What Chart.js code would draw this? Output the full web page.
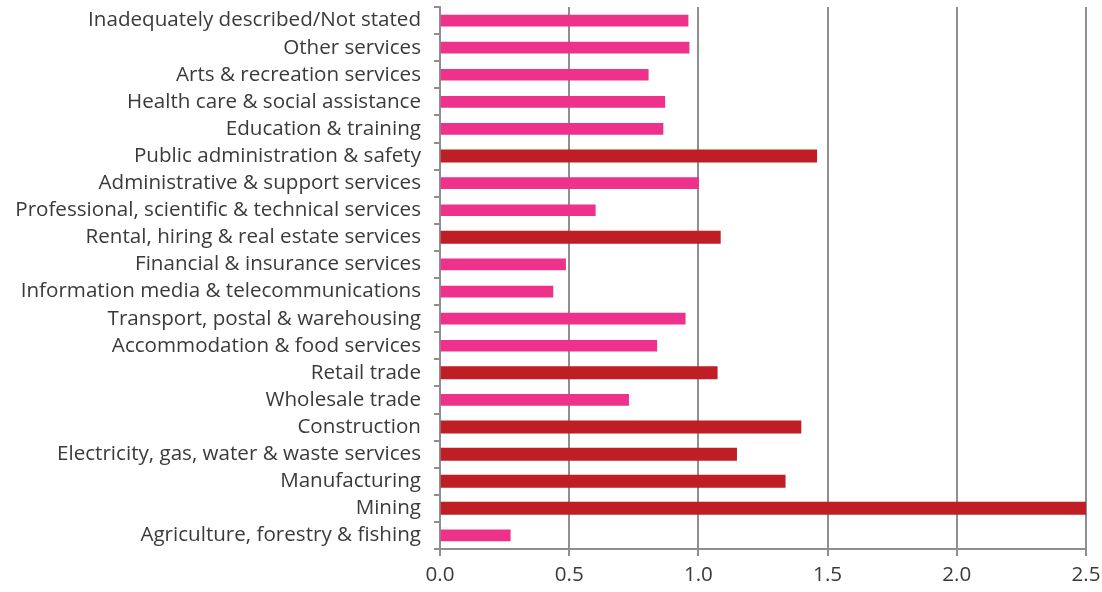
<!DOCTYPE html>
<html><head><meta charset="utf-8">
<script src="https://cdn.jsdelivr.net/npm/chart.js@4/dist/chart.umd.min.js"></script>
<style>html,body{margin:0;padding:0;background:#fff}#wrap{width:1102px;height:592px}</style>
</head><body><div id="wrap"><canvas id="c" width="1102" height="592"></canvas></div>
<script>
const categories = [
  'Inadequately described/Not stated',
  'Other services',
  'Arts & recreation services',
  'Health care & social assistance',
  'Education & training',
  'Public administration & safety',
  'Administrative & support services',
  'Professional, scientific & technical services',
  'Rental, hiring & real estate services',
  'Financial & insurance services',
  'Information media & telecommunications',
  'Transport, postal & warehousing',
  'Accommodation & food services',
  'Retail trade',
  'Wholesale trade',
  'Construction',
  'Electricity, gas, water & waste services',
  'Manufacturing',
  'Mining',
  'Agriculture, forestry & fishing'
];
const values = [0.96, 0.964, 0.806, 0.87, 0.863, 1.458, 1.001, 0.601, 1.085, 0.486, 0.437, 0.949, 0.839, 1.073, 0.73, 1.397, 1.148, 1.336, 2.51, 0.272];
const highlighted = ['Public administration & safety','Rental, hiring & real estate services','Retail trade','Construction','Electricity, gas, water & waste services','Manufacturing','Mining'];
const xTickLabels = ['0.0','0.5','1.0','1.5','2.0','2.5'];

const FONT = '"Open Sans"';
const mctx = document.createElement('canvas').getContext('2d');
mctx.font = '100px ' + FONT;
const longest = categories.reduce((a,b)=> (mctx.measureText(b).width > mctx.measureText(a).width ? b : a));
const fontSize = 100 * 406 / mctx.measureText(longest).width;

const pinkData = values.map((v,i)=> highlighted.includes(categories[i]) ? null : v);
const redData = values.map((v,i)=> highlighted.includes(categories[i]) ? v : null);
const GRID = '#8f8f8f';
const TEXT = '#3a3a3a';

new Chart(document.getElementById('c'), {
  type: 'bar',
  data: {
    labels: categories,
    datasets: [
      { data: pinkData, backgroundColor: '#ee318a', barThickness: 11, skipNull: true },
      { data: redData, backgroundColor: '#be1e24', barThickness: 12.3, skipNull: true }
    ]
  },
  options: {
    indexAxis: 'y',
    responsive: false,
    devicePixelRatio: 1,
    animation: false,
    layout: { padding: { top: 7, right: 16, left: 0, bottom: 0 } },
    plugins: { legend: { display: false }, tooltip: { enabled: false } },
    scales: {
      x: {
        stacked: true,
        min: 0, max: 2.5,
        afterFit: s => { s.height = 43; s.paddingLeft = 0; s.paddingRight = 0; },
        grid: { color: GRID, lineWidth: 2, tickLength: 7, drawTicks: true },
        border: { display: true, color: GRID, width: 2 },
        ticks: {
          stepSize: 0.5,
          color: TEXT,
          font: { family: FONT, size: fontSize },
          padding: 7,
          callback: (v, i) => xTickLabels[i]
        }
      },
      y: {
        stacked: true,
        afterFit: s => { s.width = 440; s.paddingTop = 0; s.paddingBottom = 0; },
        grid: { drawOnChartArea: false, offset: true, color: GRID, lineWidth: 2, tickLength: 6 },
        border: { display: true, color: GRID, width: 2 },
        ticks: {
          autoSkip: false,
          color: TEXT,
          padding: 13,
          font: { family: FONT, size: fontSize }
        }
      }
    }
  }
});
</script>
</body></html>
